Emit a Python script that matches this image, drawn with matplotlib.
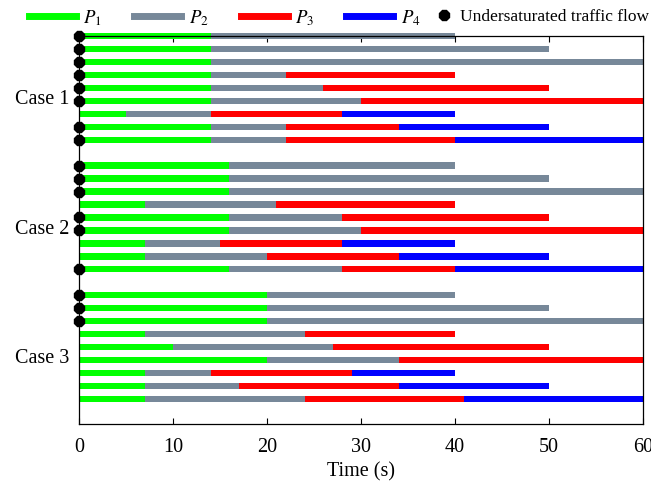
import matplotlib
matplotlib.use("Agg")
import matplotlib.pyplot as plt
from matplotlib.lines import Line2D
import numpy as np

plt.rcParams['font.family'] = ['Liberation Serif', 'DejaVu Serif']
plt.rcParams['mathtext.fontset'] = 'stix'

# Phase end times (s) for each row; each row: [P1_end, P2_end, P3_end, P4_end]
case1 = [
    [14, 40], [14, 50], [14, 60],
    [14, 22, 40], [14, 26, 50], [14, 30, 60],
    [5, 14, 28, 40], [14, 22, 34, 50], [14, 22, 40, 60],
]
case2 = [
    [16, 40], [16, 50], [16, 60],
    [7, 21, 40], [16, 28, 50], [16, 30, 60],
    [7, 15, 28, 40], [7, 20, 34, 50], [16, 28, 40, 60],
]
case3 = [
    [20, 40], [20, 50], [20, 60],
    [7, 24, 40], [10, 27, 50], [20, 34, 60],
    [7, 14, 29, 40], [7, 17, 34, 50], [7, 24, 41, 60],
]
undersat1 = [1, 1, 1, 1, 1, 1, 0, 1, 1]
undersat2 = [1, 1, 1, 0, 1, 1, 0, 0, 1]
undersat3 = [1, 1, 1, 0, 0, 0, 0, 0, 0]

case_labels = ["Case 1", "Case 2", "Case 3"]
phase_labels = ["$P_1$", "$P_2$", "$P_3$", "$P_4$"]
colors = ["#00ff00", "#778899", "#ff0000", "#0000ff"]
x_ticks = [0, 10, 20, 30, 40, 50, 60]

fig = plt.figure(figsize=(6.51, 4.82), dpi=100)
ax = fig.add_axes([0.1214, 0.1203, 0.8663, 0.8047])

cases = [case1, case2, case3]
unders = [undersat1, undersat2, undersat3]
for ci, (rows, us) in enumerate(zip(cases, unders)):
    for ri, ends in enumerate(rows):
        y = ci * 10 + ri
        start = 0
        for pi, end in enumerate(ends):
            ax.barh(y, end - start, left=start, height=0.5, color=colors[pi],
                    edgecolor='none', clip_on=False, zorder=2)
            start = end
        if us[ri]:
            ax.plot([0], [y], marker='8', color='black', markersize=7.5,
                    clip_on=False, zorder=5, linestyle='none')

for ci, lab in enumerate(case_labels):
    ax.text(-0.018, ci * 10 + 4.9, lab, transform=ax.get_yaxis_transform(),
            ha='right', va='center', fontsize=14.5)

ax.set_xlim(0, 60)
ax.set_ylim(29.95, 0)
ax.set_yticks([])
ax.set_xticks(x_ticks)
ax.tick_params(axis='x', direction='in', top=True, bottom=True, labelsize=14.5,
               length=4, pad=10)
ax.set_xlabel("Time (s)", fontsize=14.5, labelpad=4)
for s in ax.spines.values():
    s.set_linewidth(0.9)

handles = [Line2D([0], [0], color=c, lw=5) for c in colors]
leg1 = fig.legend(handles, phase_labels, loc='upper left',
                  bbox_to_anchor=(0.036, 0.995), ncol=4, frameon=False,
                  fontsize=13.5, handlelength=2.5, handletextpad=0.4,
                  columnspacing=1.72, borderaxespad=0, borderpad=0.3)
mh = [Line2D([0], [0], marker='8', color='black', linestyle='none', markersize=7.5)]
leg2 = fig.legend(mh, ["Undersaturated traffic flow"], loc='upper left',
                  bbox_to_anchor=(0.662, 0.993), frameon=False, fontsize=12.5,
                  handlelength=0.9, handletextpad=0.45, borderaxespad=0,
                  borderpad=0.3)

fig.savefig("out.png", dpi=100)
